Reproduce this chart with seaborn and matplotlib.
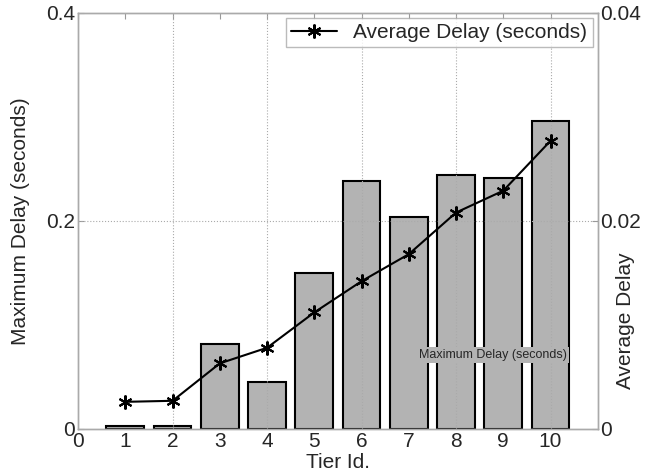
import pandas as pd
import seaborn as sns
import matplotlib.pyplot as plt

# values
tiers = [1, 2, 3, 4, 5, 6, 7, 8, 9, 10]
max_delay = [0.003, 0.003, 0.082, 0.045, 0.150, 0.238, 0.204, 0.244, 0.241, 0.296]
avg_delay = [0.0026, 0.0027, 0.0063, 0.0078, 0.0112, 0.0142, 0.0168, 0.0208, 0.0229, 0.0277]

df = pd.DataFrame({'tier': tiers, 'max': max_delay, 'avg': avg_delay})

sns.set_style('white')
plt.rcParams['font.family'] = ['Liberation Sans', 'DejaVu Sans']

fig = plt.figure(figsize=(6.62, 4.76), dpi=100)
ax = fig.add_axes([0.118, 0.099, 0.785, 0.874])

# bars: maximum delay
sns.barplot(data=df, x='tier', y='max', native_scale=True, width=0.8,
            color='#b3b3b3', saturation=1, edgecolor='black', linewidth=1.5, ax=ax)
ax.set_xlim(0, 11)
ax.set_ylim(0, 0.4)
ax.set_xticks(range(0, 11))
ax.set_xticklabels([str(i) for i in range(0, 11)])
ax.set_yticks([0, 0.2, 0.4])
ax.set_yticklabels(['0', '0.2', '0.4'])
ax.tick_params(labelsize=15, direction='in', length=4, color='#999999', top=True, pad=2)
ax.set_xlabel('Tier Id.', fontsize=15)
ax.xaxis.set_label_coords(0.5, -0.058)
ax.set_ylabel('Maximum Delay (seconds)', fontsize=15)
ax.yaxis.set_label_coords(-0.093, 0.5)
for s in ax.spines.values():
    s.set_color('#aaaaaa')
    s.set_linewidth(1)

# dotted grid drawn over the bars
for xv in [2, 4, 6, 8, 10]:
    ax.axvline(xv, color='#aaaaaa', linestyle=':', linewidth=0.8, zorder=3)
ax.axhline(0.2, color='#aaaaaa', linestyle=':', linewidth=0.8, zorder=3)

ax.text(8.78, 0.071, 'Maximum Delay (seconds)', fontsize=9, ha='center', va='center',
        bbox=dict(facecolor='#b3b3b3', edgecolor='none', pad=1.5), zorder=4)

# line: average delay on the right axis
ax2 = ax.twinx()
sns.lineplot(data=df, x='tier', y='avg', color='black', marker=(6, 2, 0), markersize=10,
             markeredgecolor='black', markeredgewidth=1.5, linewidth=1.5,
             label='Average Delay (seconds)', ax=ax2)
ax2.set_ylim(0, 0.04)
ax2.set_xlim(0, 11)
ax2.set_yticks([0, 0.02, 0.04])
ax2.set_yticklabels(['0', '0.02', '0.04'])
ax2.tick_params(labelsize=15, direction='in', length=4, color='#999999', pad=2)
ax2.set_ylabel('Average Delay', fontsize=15)
ax2.yaxis.set_label_coords(1.035, 0.26)
for s in ax2.spines.values():
    s.set_color('#aaaaaa')
    s.set_linewidth(1)

leg = ax2.legend(loc='upper right', fontsize=15, frameon=True, fancybox=False,
                 borderpad=0.25, handlelength=2.2, borderaxespad=0.25)
leg.get_frame().set_edgecolor('#aaaaaa')
leg.get_frame().set_linewidth(1)

fig.savefig('out.png', dpi=100)
